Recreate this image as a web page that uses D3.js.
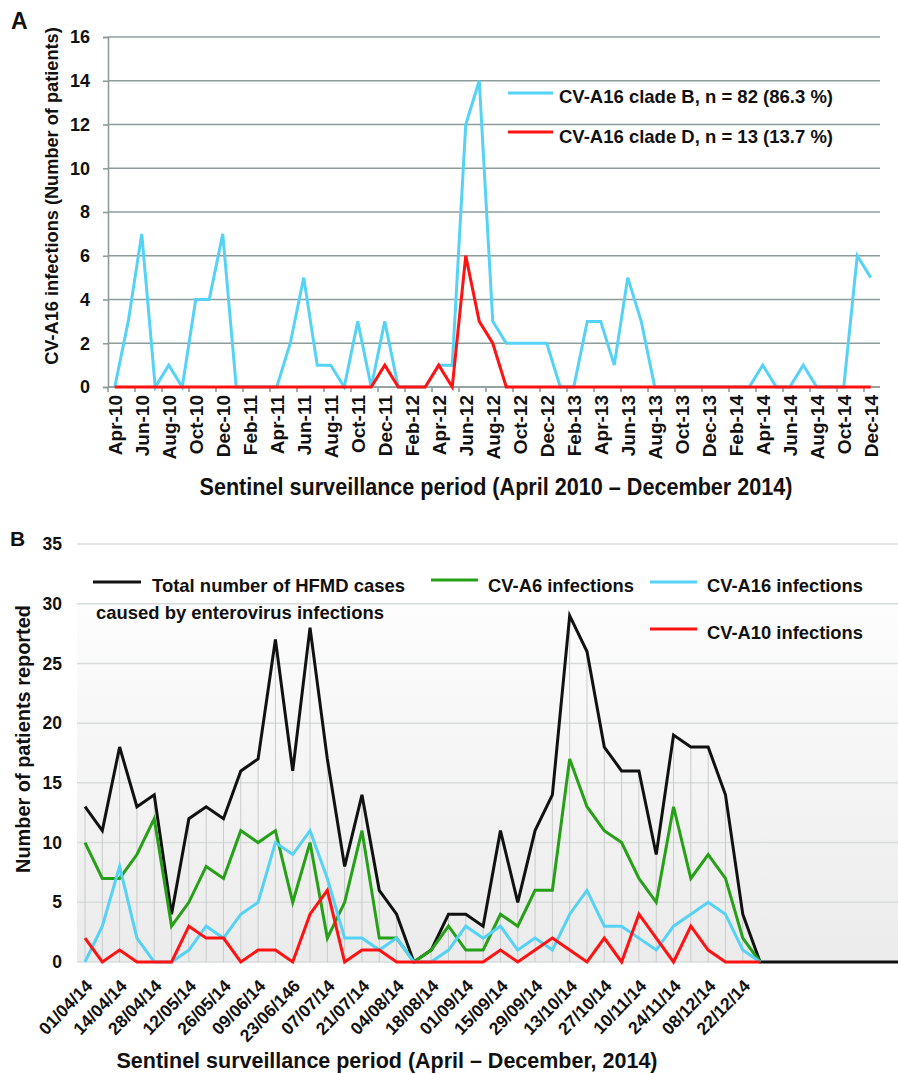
<!DOCTYPE html>
<html><head><meta charset="utf-8">
<script src="https://cdn.jsdelivr.net/npm/d3@7/dist/d3.min.js"></script>
<style>
body{margin:0;background:#fff}
svg{display:block}
text{font-family:"Liberation Sans",Arial,sans-serif;font-weight:bold;fill:#111}
</style>
</head><body>
<svg id="chart" width="898" height="1074"></svg>
<script>
// ---------- Panel A data ----------
const monthsA = ["Apr-10","May-10","Jun-10","Jul-10","Aug-10","Sep-10","Oct-10","Nov-10","Dec-10",
  "Jan-11","Feb-11","Mar-11","Apr-11","May-11","Jun-11","Jul-11","Aug-11","Sep-11","Oct-11","Nov-11","Dec-11",
  "Jan-12","Feb-12","Mar-12","Apr-12","May-12","Jun-12","Jul-12","Aug-12","Sep-12","Oct-12","Nov-12","Dec-12",
  "Jan-13","Feb-13","Mar-13","Apr-13","May-13","Jun-13","Jul-13","Aug-13","Sep-13","Oct-13","Nov-13","Dec-13",
  "Jan-14","Feb-14","Mar-14","Apr-14","May-14","Jun-14","Jul-14","Aug-14","Sep-14","Oct-14","Nov-14","Dec-14"];
const cladeB = [0,3,7,0,1,0,4,4,7,
  0,0,0,0,2,5,1,1,0,3,0,3,
  0,0,0,1,1,12,14,3,2,2,2,2,
  0,0,3,3,1,5,3,0,0,0,0,0,
  0,0,0,1,0,0,1,0,0,0,6,5];
const cladeD = [0,0,0,0,0,0,0,0,0,
  0,0,0,0,0,0,0,0,0,0,0,1,
  0,0,0,1,0,6,3,2,0,0,0,0,
  0,0,0,0,0,0,0,0,0,0,0,0,
  0,0,0,0,0,0,0,0,0,0,0,0];
const yTicksA = [0,2,4,6,8,10,12,14,16];
const legendA = ["CV-A16 clade B, n = 82 (86.3 %)","CV-A16 clade D, n = 13 (13.7 %)"];

// ---------- Panel B data ----------
const weekLabelsB = ["01/04/14","14/04/14","28/04/14","12/05/14","26/05/14","09/06/14","23/06/146",
  "07/07/14","21/07/14","04/08/14","18/08/14","01/09/14","15/09/14","29/09/14","13/10/14",
  "27/10/14","10/11/14","24/11/14","08/12/14","22/12/14"];
const totalHFMD = [13,11,18,13,14,4,12,13,12,16,17,27,16,28,17,8,14,6,4,0,
  1,4,4,3,11,5,11,14,29,26,18,16,16,9,19,18,18,14,4,0,
  0,0,0,0,0,0,0,0];
const cvA6 = [10,7,7,9,12,3,5,8,7,11,10,11,5,10,2,5,11,2,2,0,
  1,3,1,1,4,3,6,6,17,13,11,10,7,5,13,7,9,7,2,0];
const cvA16 = [0,3,8,2,0,0,1,3,2,4,5,10,9,11,7,2,2,1,2,0,
  0,1,3,2,3,1,2,1,4,6,3,3,2,1,3,4,5,4,1,0];
const cvA10 = [2,0,1,0,0,0,3,2,2,0,1,1,0,4,6,0,1,1,0,0,
  0,0,0,0,1,0,1,2,1,0,2,0,4,2,0,3,1,0,0,0];
const yTicksB = [0,5,10,15,20,25,30,35];

const BLUE = "#55d2f6", RED = "#ff1212", GREEN = "#26a016", BLACK = "#111";
const FONT = "'Liberation Sans',Arial,sans-serif";

const svg = d3.select("#chart");
svg.append("rect").attr("width",898).attr("height",1074).attr("fill","#fff");

function txt(g, x, y, s, size, len, opts={}) {
  const t = g.append("text").style("font-size", size+"px").text(s);
  if (opts.rotate) t.attr("transform", `translate(${x},${y}) rotate(${opts.rotate})`).attr("x",0).attr("y",0);
  else t.attr("x", x).attr("y", y);
  if (opts.anchor) t.attr("text-anchor", opts.anchor);
  if (len) t.attr("textLength", len).attr("lengthAdjust", "spacingAndGlyphs");
  return t;
}

// ================= PANEL A =================
const A = svg.append("g");
const xA = d3.scaleBand().domain(monthsA).range([108, 877.5]).padding(0);
const cxA = m => xA(m) + xA.bandwidth()/2;
const yA = d3.scaleLinear().domain([0,16]).range([387,37]);
const gridA = "#8e9c9c";

A.selectAll("line.grid").data(yTicksA).join("line")
  .attr("x1",108).attr("x2",880).attr("y1",d=>yA(d)).attr("y2",d=>yA(d))
  .attr("stroke",gridA).attr("stroke-width",1.6);

const yAxA = A.append("g").attr("transform","translate(108,0)")
  .call(d3.axisLeft(yA).tickValues(yTicksA).tickSize(5).tickPadding(13).tickFormat(d3.format("d")));
yAxA.select(".domain").attr("stroke",gridA).attr("stroke-width",1.6);
yAxA.selectAll(".tick line").attr("stroke",gridA).attr("stroke-width",1.6);
yAxA.selectAll(".tick text").style("font-size","18px").style("font-family",FONT).style("font-weight","bold").attr("fill","#111");

// x ticks at every second month boundary
const tickIdxA = monthsA.map((m,i)=>i).filter(i=>i%2===0);
A.selectAll("line.xt").data(tickIdxA).join("line")
  .attr("x1",i=>xA(monthsA[i])).attr("x2",i=>xA(monthsA[i]))
  .attr("y1",387).attr("y2",392).attr("stroke",gridA).attr("stroke-width",1.6);
A.append("line").attr("x1",108).attr("x2",880).attr("y1",387).attr("y2",387).attr("stroke",gridA).attr("stroke-width",1.6);

const xAxA = A.append("g").attr("transform","translate(0,387)")
  .call(d3.axisBottom(xA).tickValues(monthsA.filter((m,i)=>i%2===0)).tickSize(0).tickPadding(0));
xAxA.select(".domain").remove();
xAxA.selectAll(".tick text")
  .attr("transform","translate(0,8) rotate(-90)").attr("text-anchor","end")
  .attr("x",0).attr("y",0).attr("dy","0.36em")
  .style("font-size","19px").style("font-family",FONT).style("font-weight","bold").attr("fill","#111");

const lineA = d3.line().x((d,i)=>cxA(monthsA[i])).y(d=>yA(d));
A.append("path").datum(cladeB).attr("d",lineA).attr("fill","none").attr("stroke",BLUE).attr("stroke-width",3).attr("stroke-linejoin","miter");
A.append("path").datum(cladeD).attr("d",lineA).attr("fill","none").attr("stroke",RED).attr("stroke-width",3).attr("stroke-linejoin","miter");

// legend A
[[BLUE,93,103,legendA[0]],[RED,132,143,legendA[1]]].forEach(([c,ly,ty,t])=>{
  A.append("line").attr("x1",508).attr("x2",553).attr("y1",ly).attr("y2",ly).attr("stroke",c).attr("stroke-width",3);
  txt(A, 559, ty, t, 19, 274);
});

txt(A, 11, 29, "A", 23);
txt(A, 58, 196, "CV-A16 infections (Number of patients)", 18.2, null, {rotate:-90, anchor:"middle"});
txt(A, 496, 495, "Sentinel surveillance period (April 2010 \u2013 December 2014)", 23, 593, {anchor:"middle"});

// ================= PANEL B =================
const B = svg.append("g");
const xB = d3.scalePoint().domain(totalHFMD.map((d,i)=>i)).range([85, 85 + 17.31*(totalHFMD.length-1)]);
const yB = d3.scaleLinear().domain([0,35]).range([962,544]);

const defs = svg.append("defs");
const grad = defs.append("linearGradient").attr("id","bgB").attr("x1",0).attr("x2",0).attr("y1",0).attr("y2",1);
grad.append("stop").attr("offset","0%").attr("stop-color","#fdfdfd");
grad.append("stop").attr("offset","100%").attr("stop-color","#ebebeb");
B.append("rect").attr("x",77).attr("y",yB(30)).attr("width",898-77).attr("height",yB(0)-yB(30)).attr("fill","url(#bgB)");

B.selectAll("line.grid").data(yTicksB).join("line")
  .attr("x1",77).attr("x2",898).attr("y1",d=>yB(d)).attr("y2",d=>yB(d))
  .attr("stroke","#d8dcdc").attr("stroke-width",1.5);

// drop lines
B.selectAll("line.drop").data(totalHFMD).join("line")
  .attr("x1",(d,i)=>xB(i)).attr("x2",(d,i)=>xB(i))
  .attr("y1",d=>yB(d)).attr("y2",yB(0)).attr("stroke","#c9cccc").attr("stroke-width",1);

const yAxB = B.append("g").attr("transform","translate(77,0)")
  .call(d3.axisLeft(yB).tickValues(yTicksB).tickSize(0).tickPadding(15));
yAxB.select(".domain").remove();
yAxB.selectAll(".tick text").style("font-size","17.5px").style("font-family",FONT).style("font-weight","bold").attr("fill","#111");

const tickIdxB = weekLabelsB.map((l,k)=>2*k);
const xAxB = B.append("g").attr("transform","translate(0,962)")
  .call(d3.axisBottom(xB).tickValues(tickIdxB).tickSize(0).tickPadding(0).tickFormat((d,k)=>weekLabelsB[k]));
xAxB.select(".domain").remove();
xAxB.selectAll(".tick text")
  .attr("transform","translate(8,25) rotate(-46)").attr("text-anchor","end")
  .attr("x",0).attr("y",0).attr("dy",0)
  .style("font-size","17.5px").style("font-family",FONT).style("font-weight","bold").attr("fill","#111");

const lineB = d3.line().x((d,i)=>xB(i)).y(d=>yB(d));
[[totalHFMD,BLACK],[cvA6,GREEN],[cvA16,BLUE],[cvA10,RED]].forEach(([s,c])=>{
  B.append("path").datum(s).attr("d",lineB).attr("fill","none").attr("stroke",c).attr("stroke-width",3).attr("stroke-linejoin","miter");
});

// legend B
const legB = [
  [BLACK,93,141,582],[GREEN,431,478,580],[BLUE,650,697,582],[RED,650,697,629]
];
legB.forEach(([c,x1,x2,y])=>B.append("line").attr("x1",x1).attr("x2",x2).attr("y1",y).attr("y2",y).attr("stroke",c).attr("stroke-width",3));
txt(B, 152, 592, "Total number of HFMD cases", 19, 253);
txt(B, 96, 619, "caused by enterovirus infections", 19, 288);
txt(B, 488, 592, "CV-A6 infections", 19, 146);
txt(B, 707, 592, "CV-A16 infections", 19, 156);
txt(B, 707, 639, "CV-A10 infections", 19, 156);

txt(B, 10, 546, "B", 21);
txt(B, 30, 739, "Number of patients reported", 21, 268, {rotate:-90, anchor:"middle"});
txt(B, 387, 1068, "Sentinel surveillance period (April \u2013 December, 2014)", 22, 541, {anchor:"middle"});
</script>
</body></html>
